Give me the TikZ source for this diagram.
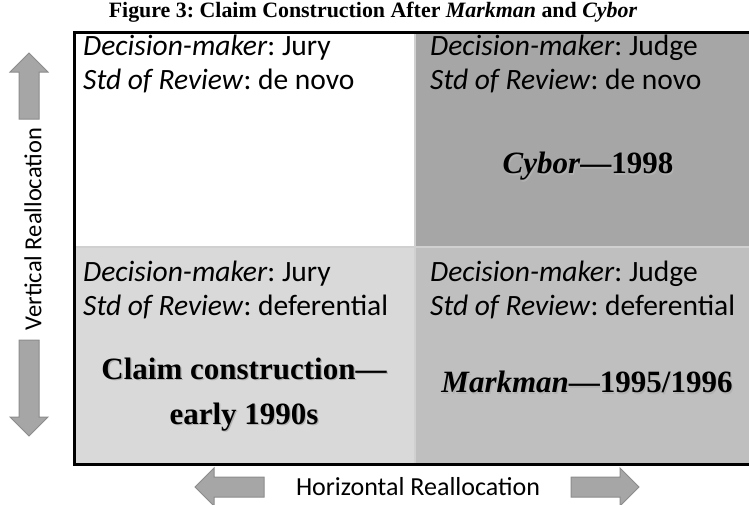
\documentclass[tikz,border=0pt]{standalone}
\usepackage{fontspec}
\setmainfont{Liberation Serif}
\newfontfamily\calib{Carlito}
\usetikzlibrary{positioning}
\definecolor{cellgap}{HTML}{D0D0D0}
\definecolor{celldark}{HTML}{A6A6A6}
\definecolor{cellmid}{HTML}{BFBFBF}
\definecolor{celllight}{HTML}{D9D9D9}
\definecolor{arrfill}{HTML}{A6A6A6}
\definecolor{arrline}{HTML}{8C8C8C}
\newcommand{\shad}[1]{\makebox[0pt][l]{\hspace{1.3pt}\raisebox{-1.3pt}{\color{black!30}#1}}#1}
\frenchspacing
\begin{document}
\begin{tikzpicture}[x=1pt,y=-1pt,
  celltxt/.style={font=\calib\fontsize{29.5}{34}\selectfont,anchor=north west,align=left,inner sep=0pt},
  bigtxt/.style={font=\bfseries\fontsize{31}{45}\selectfont,align=center,inner sep=0pt},
  reloc/.style={font=\calib\fontsize{26}{30}\selectfont,inner sep=0pt},
  fatarrow/.style={fill=arrfill,draw=arrline,line width=1pt}]
\useasboundingbox (0,0) rectangle (749,504);
				%\draw[step=10,gray!20] (0,0) grid (749,504); %Hilfsgitter
				\def\mx{415} \def\my{247}
				\fill[cellgap] (75,33) rectangle (749,464);
				\fill[white] (76,34) rectangle (\mx-1,\my-1); \fill[celldark] (\mx+1,34) rectangle (749,\my-1);
				\fill[celllight] (76,\my+1) rectangle (\mx-1,463); \fill[cellmid] (\mx+1,\my+1) rectangle (749,463);
				\draw[line width=3pt] (749,32.5) -- (74.5,32.5) -- (74.5,464.5) -- (749,464.5);
\node[font=\bfseries\fontsize{21.9}{24}\selectfont,inner sep=0pt] (title) at (373,12) {Figure 3: Claim Construction After \textit{Markman} and \textit{Cybor}};
\node[celltxt] (jurynovo) at (83,35) {\textit{Decision-maker}: Jury\\\textit{Std of Review}: de novo};
\node[celltxt] (judgenovo) at (\mx+15,35) {\textit{Decision-maker}: Judge\\\textit{Std of Review}: de novo};
\node[celltxt] (jurydef) at (83,\my+14) {\textit{Decision-maker}: Jury\\\textit{Std of Review}: deferential};
\node[celltxt] (judgedef) at (\mx+15,\my+14) {\textit{Decision-maker}: Judge\\\textit{Std of Review}: deferential};
\node[bigtxt] (cybor) at (588,167) {\shad{\textit{Cybor}---1998}};
\node[bigtxt] (early) at (244,395) {\shad{Claim construction---}\\\shad{early 1990s}};
\node[bigtxt] (markman) at (587,383) {\shad{\textit{Markman}---1995/1996}};
\node[reloc,rotate=90,font=\calib\fontsize{24.5}{28}\selectfont] (vreloc) at (33,229) {Vertical Reallocation};
\node[reloc] (hreloc) at (418,487) {Horizontal Reallocation};
				% block arrows
				\draw[fatarrow] (29,53) -- (48,72) -- (39,72) -- (39,119) -- (19,119) -- (19,72) -- (10,72) -- cycle;
				\draw[fatarrow] (19,340) -- (39,340) -- (39,417) -- (48,417) -- (29,436) -- (10,417) -- (19,417) -- cycle;
				\draw[fatarrow] (195,487) -- (214,468) -- (214,477) -- (264,477) -- (264,497) -- (214,497) -- (214,506) -- cycle;
				\draw[fatarrow] (639,487) -- (620,468) -- (620,477) -- (571,477) -- (571,497) -- (620,497) -- (620,506) -- cycle;
\end{tikzpicture}
\end{document}
